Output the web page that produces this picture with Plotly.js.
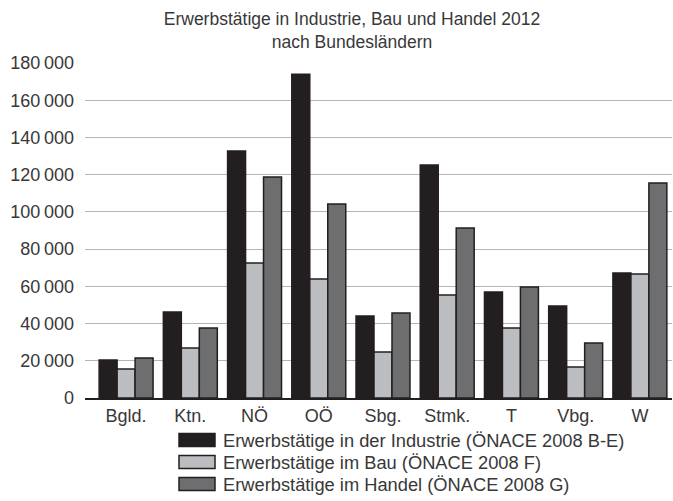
<!DOCTYPE html>
<html><head><meta charset="utf-8">
<script src="https://cdn.plot.ly/plotly-3.0.1.min.js"></script>
<style>body{margin:0;background:#fff}#c{width:673px;height:501px}</style>
</head><body><div id="c"></div>
<script>
const categories = ["Bgld.","Ktn.","NÖ","OÖ","Sbg.","Stmk.","T","Vbg.","W"];
const industrie = [20400, 46200, 132700, 174000, 44100, 125200, 57000, 49400, 67200];
const bau       = [15600, 26900, 72500, 63900, 24700, 55300, 37600, 16600, 66600];
const handel    = [21500, 37600, 118700, 104200, 45700, 91300, 59600, 29600, 115500];
const seriesNames = [
  "Erwerbstätige in der Industrie (ÖNACE 2008 B-E)",
  "Erwerbstätige im Bau (ÖNACE 2008 F)",
  "Erwerbstätige im Handel (ÖNACE 2008 G)"
];
const seriesColors = ["#231f20", "#bcbdc0", "#6d6e70"];
const yTickVals = [0,20000,40000,60000,80000,100000,120000,140000,160000,180000];
const yTickText = ["0","20\u2009000","40\u2009000","60\u2009000","80\u2009000","100\u2009000","120\u2009000","140\u2009000","160\u2009000","180\u2009000"];

const W = 673, H = 501;
const m = {l:85, r:1, t:63, b:103};
const pw = W - m.l - m.r, ph = H - m.t - m.b;
const fx = px => (px - m.l) / pw;
const fy = py => (H - m.b - py) / ph;

const values = [industrie, bau, handel];
const traces = values.map((v, i) => ({
  type: "bar", x: categories, y: v, name: seriesNames[i],
  marker: {color: seriesColors[i], line: {color: "#231f20", width: 1.5}},
  hoverinfo: "skip"
}));

const shapes = [], annotations = [];
const rowY = [440, 462, 484];
seriesNames.forEach((n, i) => {
  shapes.push({type: "rect", xref: "paper", yref: "paper",
    x0: fx(179), x1: fx(215), y0: fy(rowY[i] - 6.5), y1: fy(rowY[i] + 6.5),
    fillcolor: seriesColors[i], line: {color: "#231f20", width: 1.5}});
  annotations.push({xref: "paper", yref: "paper", x: fx(221), y: fy(rowY[i]),
    xanchor: "left", yanchor: "middle", text: n, showarrow: false,
    font: {size: 18.3, color: "#383838"}});
});

const layout = {
  width: W, height: H, margin: m,
  paper_bgcolor: "#fff", plot_bgcolor: "#fff",
  font: {family: "Liberation Sans, Arial, sans-serif", color: "#383838"},
  title: {text: "Erwerbstätige in Industrie, Bau und Handel 2012<br>nach Bundesländern",
    x: 352 / W, xanchor: "center", y: 1 - 25/H, yanchor: "top", yref: "container",
    font: {size: 17.5, color: "#383838"}},
  barmode: "group", bargap: 0.16, bargroupgap: 0,
  showlegend: false,
  xaxis: {type: "category", range: [-0.64, 8.5], showgrid: false,
    showline: true, linecolor: "#231f20", linewidth: 2,
    ticks: "", tickfont: {size: 18, color: "#383838"}, fixedrange: true},
  yaxis: {range: [0, 180000], tickvals: yTickVals, ticktext: yTickText,
    showgrid: true, gridcolor: "#b5b5b5", gridwidth: 1, zeroline: false,
    showline: false, ticks: "", ticklabelstandoff: 10,
    tickfont: {size: 18, color: "#383838"}, fixedrange: true},
  shapes: shapes, annotations: annotations
};
Plotly.newPlot("c", traces, layout, {displayModeBar: false, staticPlot: true});
</script></body></html>
